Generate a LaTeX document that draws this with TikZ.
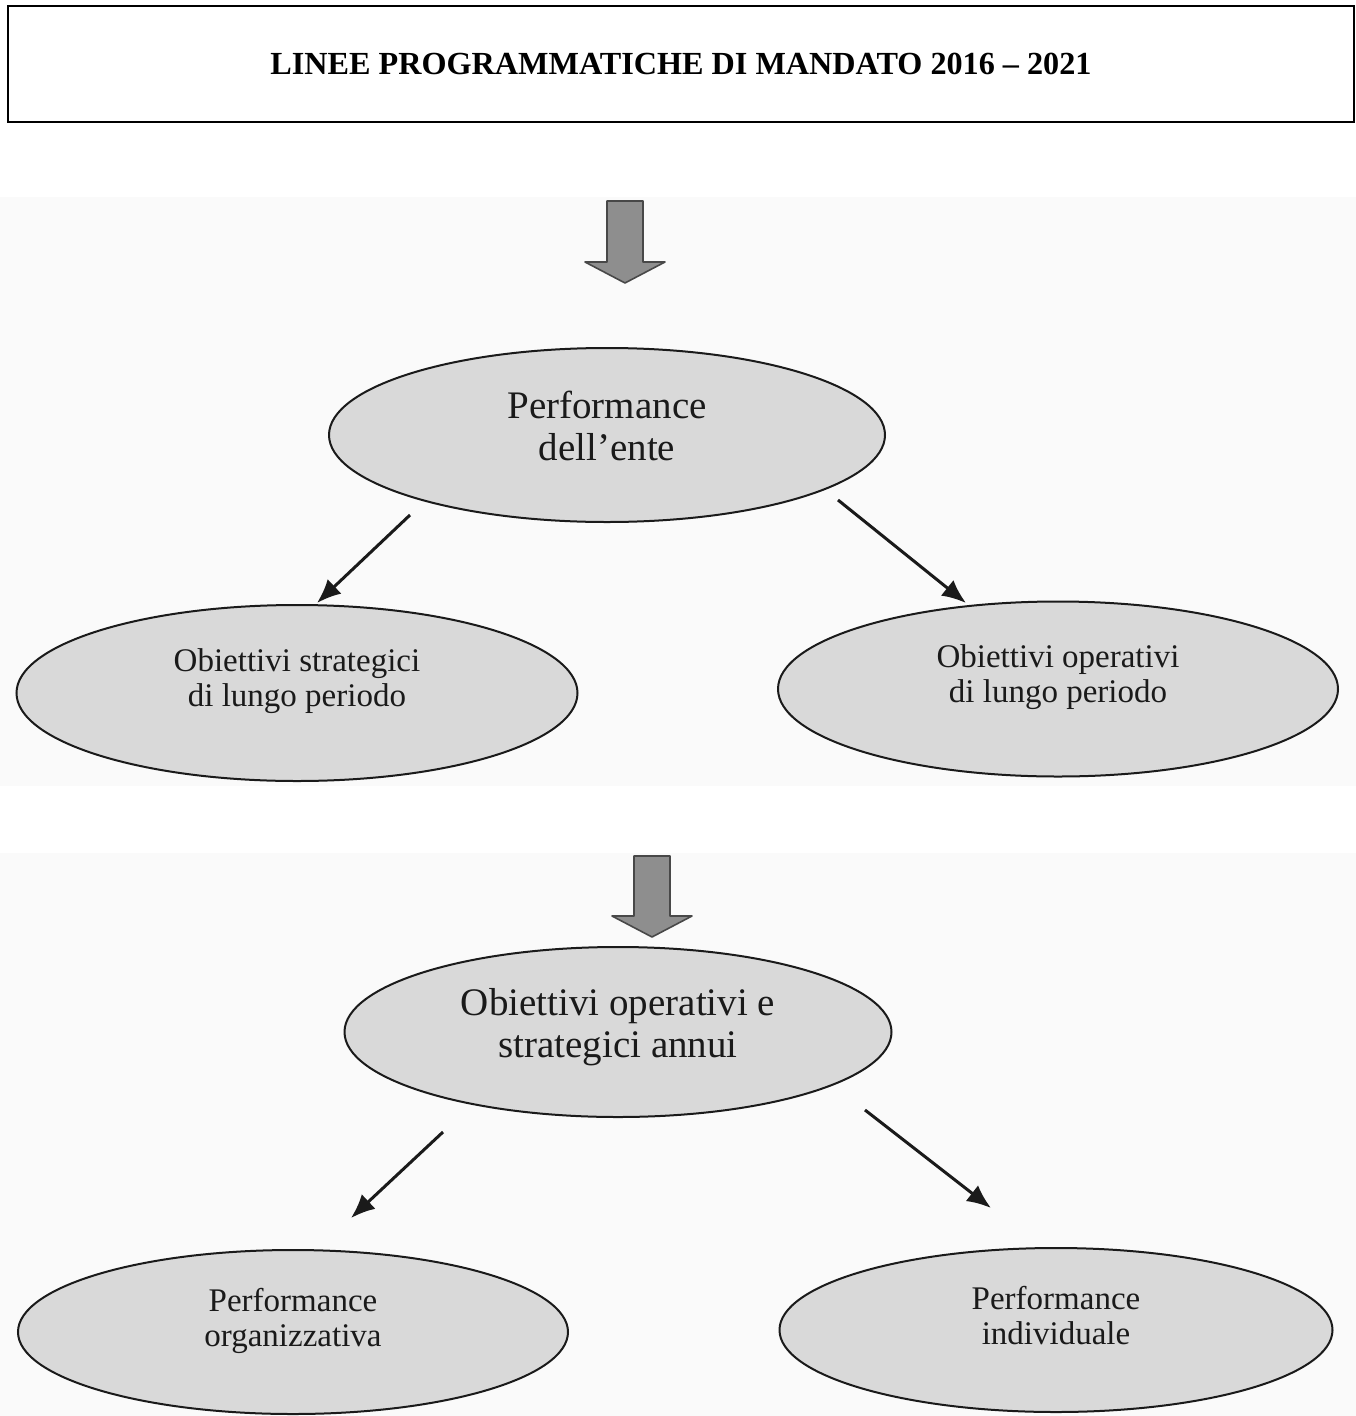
\documentclass[tikz,border=0pt]{standalone}
\usepackage{fontspec}
\setmainfont{Liberation Serif}
\usetikzlibrary{shapes.geometric,arrows.meta}
\definecolor{ellfill}{HTML}{D9D9D9}
\definecolor{blockfill}{HTML}{8E8E8E}
\definecolor{scanbg}{HTML}{FAFAFA}
\definecolor{inkcol}{HTML}{1A1A1A}
\begin{document}
\begin{tikzpicture}[x=1pt,y=-1pt,
  oval/.style={ellipse, draw=inkcol, line width=2pt, fill=ellfill, inner sep=0pt},
  ovaltext/.style={align=center, text=inkcol, inner sep=0pt},
  bigtxt/.style={font=\fontsize{39}{42}\selectfont},
  smalltxt/.style={font=\fontsize{33}{35}\selectfont},
  conn/.style={line width=3pt, draw=inkcol, -{Latex[length=24pt,width=20pt]}},
  blockarrow/.style={draw=inkcol!80, line width=1.6pt, fill=blockfill, line join=round}]
\useasboundingbox (0,0) rectangle (1356,1416);
% scanned backgrounds
\fill[scanbg] (0,197) rectangle (1356,786);
\fill[scanbg] (0,853) rectangle (1356,1416);
% title box
\node[draw=black, line width=2.2pt, minimum width=1346pt, minimum height=116pt, inner sep=0pt,
  font=\fontsize{32.2}{34}\selectfont\bfseries] (title) at (681,64) {\raisebox{-2pt}{LINEE PROGRAMMATICHE DI MANDATO 2016 – 2021}};
% block arrow 1
\draw[blockarrow] (607,201) -- (643,201) -- (643,262) -- (665,262) -- (625,283) -- (585,262) -- (607,262) -- cycle;
% block arrow 2
\draw[blockarrow] (634,856) -- (670,856) -- (670,916) -- (692,916) -- (652,937) -- (612,916) -- (634,916) -- cycle;
% ellipses
\node[oval, minimum width=556pt, minimum height=174pt] (perf) at (607,435) {};
\node[oval, minimum width=561pt, minimum height=176pt] (strat) at (297,693) {};
\node[oval, minimum width=560pt, minimum height=175pt] (oper) at (1058,689) {};
\node[oval, minimum width=547pt, minimum height=170pt] (annui) at (618,1032) {};
\node[oval, minimum width=550pt, minimum height=164pt] (org) at (293,1332) {};
\node[oval, minimum width=553pt, minimum height=164pt] (ind) at (1056,1330) {};
% texts
\node[ovaltext, bigtxt] (perft) at ([yshift=9pt]perf.center) {Performance\\dell’ente};
\node[ovaltext, smalltxt] (stratt) at ([yshift=12pt]strat.center) {Obiettivi strategici\\di lungo periodo};
\node[ovaltext, smalltxt] (opert) at ([yshift=12pt]oper.center) {Obiettivi operativi\\di lungo periodo};
\node[ovaltext, bigtxt] (annuit) at ([yshift=5pt]annui.center) {Obiettivi operativi e\\strategici annui};
\node[ovaltext, smalltxt] (orgt) at ([yshift=11pt]org.center) {Performance\\organizzativa};
\node[ovaltext, smalltxt] (indt) at ([yshift=14pt]ind.center) {Performance\\individuale};
% connectors
\coordinate (c1s) at (410,515); \coordinate (c1e) at (317,603);
\coordinate (c2s) at (838,500); \coordinate (c2e) at (966,603);
\coordinate (c3s) at (443,1132); \coordinate (c3e) at (351,1218);
\coordinate (c4s) at (865,1110); \coordinate (c4e) at (991,1208);
\draw[conn] (c1s) -- (c1e);
\draw[conn] (c2s) -- (c2e);
\draw[conn] (c3s) -- (c3e);
\draw[conn] (c4s) -- (c4e);
\end{tikzpicture}
\end{document}
